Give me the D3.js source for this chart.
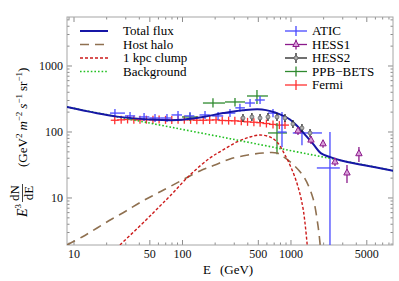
<!DOCTYPE html>
<html>
<head>
<meta charset="utf-8">
<script src="https://cdn.jsdelivr.net/npm/d3@7"></script>
<style>
  body { margin: 0; background: #fff; }
  svg { font-family: "Liberation Serif", "DejaVu Serif", serif; }
</style>
</head>
<body>
<div id="chart"></div>
<script>
// model curves as [E (GeV), E^3 dN/dE]
const totalFlux = [[8.71,235],[25.2,168],[50.7,152],[90,149],[156,166],[239,190],[365,210],[546,215],[800,182],[989,152],[1148,122],[1400,85],[1650,62],[1900,47],[2312,41],[2870,36.6],[8810,25.5]];
const hostHalo = [[8.71,1.91],[12,2.52],[16.5,3.45],[22.6,4.72],[30.5,6.24],[41.9,8.55],[57.5,11.3],[79.3,14.9],[146,25.2],[201,31.1],[277,38.3],[405,44],[558,47.2],[751,47.2],[850,42],[1050,32],[1330,20.5],[1610,9.8],[1790,3.8],[1870,2.05],[1900,1.5]];
const clump = [[26.8,1.91],[45.6,4.4],[62.7,7.43],[77.4,10.5],[118.5,21.9],[181,39.6],[239,52.5],[321,69.4],[424,82.6],[524,88.5],[647,82.6],[751,69.4],[890,44.1],[1054,24.3],[1197,13],[1303,6.93],[1361,4.1],[1420,2.05],[1440,1.5]];
const background = [[8.71,235],[26.8,164],[77.4,117],[277,77.8],[989,51.5],[2870,36.6],[8810,25.5]];

// measurements: [E, value, Elo, Ehi, vlo, vhi]
const atic = [[24.1,190,21.7,29.8,180,200],[33.2,172,29.8,37,164,180],[44.7,166,40,50,158,174],[56.4,160,50,63,152,168],[72.7,160,63,80,152,168],[91.9,178,80,100,168,188],[118.5,172,105,130,162,182],[163,178,145,180,166,190],[215,172,190,240,160,185],[277,190,245,310,176,205],[342,228,310,380,210,248],[424,270,380,470,245,298],[524,300,470,580,268,335],[690,190,620,760,165,218],[835,98,760,920,58,197],[1276,95,1050,1950,62,117],[2312,28,1750,2850,1,98]];
const hess1 = [[1173,102,1173,1173,92,113],[1545,74,1545,1545,66,83],[1995,65,1995,1995,58,73],[2572,34.5,2572,2572,30,40],[3318,23.5,3318,3318,16.6,31],[4275,46,4275,4275,34.5,58]];
const hess2 = [[365,160,365,365,150,170],[441,166,441,441,156,176],[524,160,524,524,150,170],[620,166,620,620,156,176],[751,166,751,751,156,176],[890,160,890,890,150,170],[1054,130,1054,1054,120,140],[1276,113,1276,1276,104,122],[1514,95,1514,1514,87,103]];
const ppb = [[118.5,166,100,140,155,178],[193,270,156,249,230,320],[308,280,249,381,240,320],[491,345,397,620,260,425],[751,95,620,929,45,135]];
const fermiE = [24,27.5,31.5,36,41,47,54,61.5,70.5,80.5,92,105,120,137,157,180,206,235,269,307,352,402,460,525,600,690,790,890];
const fermiV = [148,150,152,151,150,151,150,152,150,149,150,151,150,148,148,149,150,147,146,145,143,140,138,136,132,128,125,125];

const xMajor = [10,50,100,500,1000,5000];
const xMinor = [9,20,30,40,60,70,80,90,200,300,400,600,700,800,900,2000,3000,4000,6000,7000,8000];
const yMajor = [10,100,1000];
const yMinor = [2,3,4,5,6,7,8,9,20,30,40,50,60,70,80,90,200,300,400,500,600,700,800,900,2000,3000,4000,5000];

const curveLegend = ['Total flux','Host halo','1 kpc clump','Background'];
const dataLegend = ['ATIC','HESS1','HESS2','PPB\u2212BETS','Fermi'];

const width = 399, height = 281;
const margin = { top: 17, right: 6, bottom: 36, left: 67 };
const innerW = width - margin.left - margin.right;
const innerH = height - margin.top - margin.bottom;

const svg = d3.select('#chart').append('svg')
    .attr('width', width).attr('height', height);

const x = d3.scaleLog().domain([8.71, 8810]).range([0, innerW]);
const y = d3.scaleLog().domain([1.905, 5430]).range([innerH, 0]);

const g = svg.append('g').attr('transform', `translate(${margin.left},${margin.top})`);

svg.append('clipPath').attr('id', 'clip')
  .append('rect').attr('x', margin.left).attr('y', margin.top).attr('width', innerW).attr('height', innerH);

// axes, ticks drawn inward on all four sides
function addAxis(axisFn, scale, values, size, labels, tr) {
  const a = g.append('g').attr('transform', tr)
    .call(axisFn(scale).tickValues(values).tickSize(-size).tickPadding(4)
      .tickFormat(labels ? d3.format('d') : ''));
  a.select('.domain').remove();
  a.selectAll('line').attr('stroke', '#8c8c8c');
  a.selectAll('text').attr('font-size', 12).attr('fill', '#111')
    .attr('font-family', '"Liberation Serif", serif');
  return a;
}
addAxis(d3.axisBottom, x, xMinor, 2.5, false, `translate(0,${innerH})`);
addAxis(d3.axisBottom, x, xMajor, 5, true, `translate(0,${innerH})`);
addAxis(d3.axisTop, x, xMinor, 2.5, false, 'translate(0,0)');
addAxis(d3.axisTop, x, xMajor, 5, false, 'translate(0,0)');
addAxis(d3.axisLeft, y, yMinor, 2.5, false, 'translate(0,0)');
addAxis(d3.axisLeft, y, yMajor, 5, true, 'translate(0,0)');
addAxis(d3.axisRight, y, yMinor, 2.5, false, `translate(${innerW},0)`);
addAxis(d3.axisRight, y, yMajor, 5, false, `translate(${innerW},0)`);

g.append('rect').attr('width', innerW).attr('height', innerH)
  .attr('fill', 'none').attr('stroke', '#a6a6a6').attr('stroke-width', 1);

// plotting layer
const plot = svg.append('g').attr('clip-path', 'url(#clip)')
  .append('g').attr('transform', `translate(${margin.left},${margin.top})`);

const line = d3.line().x(d => x(d[0])).y(d => y(d[1])).curve(d3.curveCatmullRom.alpha(0.5));

const curveStyles = [
  { data: totalFlux, color: '#1616a6', w: 2, dash: null },
  { data: hostHalo, color: '#8f7050', w: 1.6, dash: '9,6' },
  { data: clump, color: '#cc1a1a', w: 1.4, dash: '3,2' },
  { data: background, color: '#22c022', w: 1.6, dash: '1.6,2' }
];
// error bar sets
function drawSet(rows, color, marker, half) {
  const s = plot.append('g');
  rows.forEach(r => {
    const cx = x(r[0]), cy = y(r[1]);
    const x1 = Math.min(x(r[2]), cx - half), x2 = Math.max(x(r[3]), cx + half);
    const y1 = Math.max(y(r[4]), cy + 4), y2 = Math.min(y(r[5]), cy - 4);
    if (half > 0) s.append('line').attr('x1', x1).attr('x2', x2).attr('y1', cy).attr('y2', cy)
      .attr('stroke', color).attr('stroke-width', 1.3);
    s.append('line').attr('x1', cx).attr('x2', cx).attr('y1', y1).attr('y2', y2)
      .attr('stroke', color).attr('stroke-width', 1.3);
    if (marker) marker(s, cx, cy);
  });
}
function triangle(s, cx, cy) {
  s.append('path').attr('d', `M${cx},${cy - 4}L${cx + 3.2},${cy + 2}L${cx - 3.2},${cy + 2}Z`)
    .attr('fill', '#d9a0d9').attr('stroke', '#8b1a8b').attr('stroke-width', 1);
}
function dot(s, cx, cy) {
  s.append('circle').attr('cx', cx).attr('cy', cy).attr('r', 2)
    .attr('fill', '#b0b0b0').attr('stroke', '#555').attr('stroke-width', 0.7);
}

const fermi = fermiE.map((e, i) => [e, fermiV[i], e, e, fermiV[i], fermiV[i]]);
drawSet(fermi, '#ff3030', null, 4);
drawSet(ppb, '#2f8a2f', null, 4);
drawSet(atic, '#4848ff', null, 4);

curveStyles.slice(1).forEach(c => {
  plot.append('path').datum(c.data).attr('d', line)
    .attr('fill', 'none').attr('stroke', c.color).attr('stroke-width', c.w)
    .attr('stroke-dasharray', c.dash);
});
plot.append('path').datum(totalFlux).attr('d', line)
  .attr('fill', 'none').attr('stroke', '#1616a6').attr('stroke-width', 2);

drawSet(hess2, '#222', dot, 0);
drawSet(hess1, '#8b1a8b', triangle, 0);

// legends
const legL = svg.append('g').attr('transform', 'translate(80,31)');
curveLegend.forEach((t, i) => {
  const c = curveStyles[i];
  legL.append('line').attr('x1', 0).attr('x2', 28).attr('y1', i * 13.5).attr('y2', i * 13.5)
    .attr('stroke', c.color).attr('stroke-width', c.w).attr('stroke-dasharray', c.dash);
  legL.append('text').attr('x', 43).attr('y', i * 13.5 + 4).attr('font-size', 13).text(t);
});

const dataColors = ['#4848ff', '#8b1a8b', '#222', '#2f8a2f', '#ff3030'];
const legR = svg.append('g').attr('transform', 'translate(285,31)');
dataLegend.forEach((t, i) => {
  const yy = i * 13.5;
  legR.append('line').attr('x1', 0).attr('x2', 22).attr('y1', yy).attr('y2', yy)
    .attr('stroke', dataColors[i]).attr('stroke-width', 1.3);
  legR.append('line').attr('x1', 11).attr('x2', 11).attr('y1', yy - 5).attr('y2', yy + 5)
    .attr('stroke', dataColors[i]).attr('stroke-width', 1.3);
  if (i === 1) triangle(legR, 11, yy);
  if (i === 2) dot(legR, 11, yy);
  legR.append('text').attr('x', 27).attr('y', yy + 4).attr('font-size', 13).text(t);
});

// axis titles
const xt = svg.append('text').attr('x', 203).attr('y', 274).attr('font-size', 13);
xt.append('tspan').text('E');
xt.append('tspan').attr('dx', 9).text('(GeV)');

const yt = svg.append('g').attr('transform', 'translate(27,217) rotate(-90)');
const e3 = yt.append('text').attr('x', 0).attr('y', 0).attr('font-size', 14);
e3.append('tspan').attr('font-style', 'italic').text('E');
e3.append('tspan').attr('font-size', 9).attr('dy', -6).text('3');
yt.append('text').attr('x', 24).attr('y', -8).attr('font-size', 13).attr('text-anchor', 'middle').text('dN');
yt.append('line').attr('x1', 15).attr('x2', 33).attr('y1', -4.5).attr('y2', -4.5).attr('stroke', '#111').attr('stroke-width', 0.8);
yt.append('text').attr('x', 24).attr('y', 6).attr('font-size', 13).attr('text-anchor', 'middle').text('dE');
const un = yt.append('text').attr('x', 50).attr('y', 0).attr('font-size', 13);
un.append('tspan').text('(GeV');
un.append('tspan').attr('font-size', 9).attr('dy', -5).text('2');
un.append('tspan').attr('dy', 5).attr('dx', 3).attr('font-style', 'italic').text('m');
un.append('tspan').attr('font-size', 9).attr('dy', -5).text('\u22122');
un.append('tspan').attr('dy', 5).attr('dx', 3).attr('font-style', 'italic').text('s');
un.append('tspan').attr('font-size', 9).attr('dy', -5).text('\u22121');
un.append('tspan').attr('dy', 5).attr('dx', 3).text('sr');
un.append('tspan').attr('font-size', 9).attr('dy', -5).text('\u22121');
un.append('tspan').attr('dy', 5).text(')');
</script>
</body>
</html>
